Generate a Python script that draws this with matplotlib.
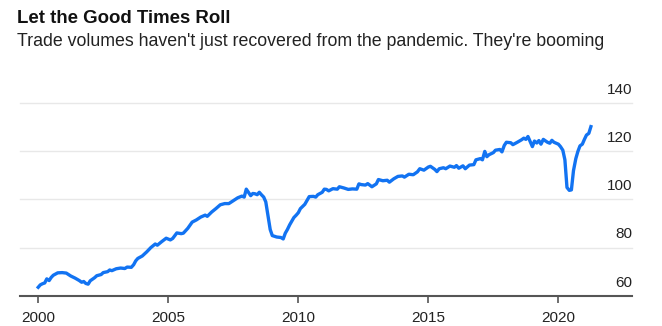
import matplotlib
matplotlib.use("Agg")
import matplotlib.pyplot as plt

plt.rcParams['font.family'] = ['Liberation Sans', 'DejaVu Sans']

# valores (indice de volumen de comercio)
years = [2000.00, 2000.08, 2000.17, 2000.25, 2000.33, 2000.42, 2000.50, 2000.58, 2000.75, 2000.92,
         2001.08, 2001.25, 2001.42, 2001.58, 2001.67, 2001.75, 2001.83, 2001.92,
         2002.00, 2002.17, 2002.25, 2002.42, 2002.50, 2002.67, 2002.75, 2002.83,
         2003.00, 2003.17, 2003.33, 2003.42, 2003.58, 2003.67, 2003.75, 2003.83,
         2004.00, 2004.17, 2004.33, 2004.50, 2004.58, 2004.75, 2004.92,
         2005.08, 2005.17, 2005.33, 2005.50, 2005.58, 2005.75, 2005.92,
         2006.08, 2006.25, 2006.42, 2006.50, 2006.67, 2006.83,
         2007.00, 2007.17, 2007.33, 2007.50, 2007.67, 2007.83, 2007.92,
         2008.00, 2008.08, 2008.17, 2008.25, 2008.33, 2008.42, 2008.50, 2008.58, 2008.67, 2008.75, 2008.83, 2008.92,
         2009.00, 2009.17, 2009.33, 2009.42, 2009.50, 2009.58, 2009.67, 2009.83, 2009.92,
         2010.00, 2010.08, 2010.25, 2010.33, 2010.42, 2010.58, 2010.67, 2010.75, 2010.92,
         2011.00, 2011.08, 2011.17, 2011.33, 2011.50, 2011.58, 2011.75, 2011.92,
         2012.08, 2012.25, 2012.33, 2012.42, 2012.58, 2012.67, 2012.83,
         2013.00, 2013.08, 2013.25, 2013.42, 2013.50, 2013.67, 2013.83,
         2014.00, 2014.08, 2014.25, 2014.42, 2014.58, 2014.67, 2014.83,
         2015.00, 2015.08, 2015.25, 2015.33, 2015.42, 2015.58, 2015.67, 2015.83,
         2016.00, 2016.08, 2016.17, 2016.33, 2016.42, 2016.58, 2016.75, 2016.83,
         2017.00, 2017.08, 2017.17, 2017.25, 2017.33, 2017.50, 2017.58, 2017.75, 2017.83, 2017.92,
         2018.00, 2018.17, 2018.25, 2018.42, 2018.58, 2018.67, 2018.75, 2018.83, 2018.92,
         2019.00, 2019.08, 2019.17, 2019.25, 2019.33, 2019.42, 2019.58, 2019.67, 2019.75, 2019.83,
         2020.00, 2020.08, 2020.17, 2020.25, 2020.33, 2020.42, 2020.50, 2020.58, 2020.67, 2020.75, 2020.83, 2020.92,
         2021.00, 2021.08, 2021.17, 2021.25]
volume = [63.5, 64.5, 65.0, 65.3, 67.0, 66.3, 67.6, 68.5, 69.5, 69.6,
          69.4, 68.2, 67.3, 66.3, 65.6, 65.9, 65.1, 64.8,
          66.2, 67.5, 68.3, 68.8, 69.6, 70.0, 70.7, 70.4,
          71.2, 71.5, 71.3, 71.9, 71.8, 72.9, 74.5, 75.5,
          76.5, 78.2, 80.0, 81.5, 81.0, 82.5, 83.9,
          83.2, 83.8, 86.1, 85.8, 86.0, 88.0, 90.6,
          91.5, 92.7, 93.5, 93.0, 94.8, 96.2,
          97.8, 98.3, 98.3, 99.5, 100.7, 101.4, 101.0,
          104.3, 103.0, 101.6, 102.5, 102.4, 102.0, 103.0, 102.0, 101.0, 99.0, 93.5, 87.5,
          85.0, 84.4, 84.2, 83.6, 86.0, 87.5, 89.5, 92.5, 93.5,
          94.5, 96.2, 98.0, 99.5, 101.2, 101.3, 101.0, 102.0, 103.0,
          104.3, 104.2, 103.6, 104.5, 104.3, 105.3, 104.8, 104.2,
          104.4, 104.3, 106.5, 106.2, 106.0, 106.6, 105.3,
          106.5, 108.3, 107.8, 108.0, 107.2, 108.6, 109.6,
          109.8, 109.3, 110.5, 110.3, 111.5, 112.8, 112.2,
          113.5, 113.8, 112.5, 111.6, 112.8, 113.2, 112.8, 113.9,
          113.4, 114.1, 113.0, 114.0, 112.8, 114.3, 114.5, 116.5,
          117.0, 116.5, 120.0, 117.8, 118.6, 119.5, 120.5, 120.8, 119.8, 122.5,
          123.8, 123.6, 122.8, 123.8, 124.8, 125.5, 125.0, 126.2, 124.0,
          122.0, 124.3, 123.5, 124.5, 123.0, 125.0, 123.8, 123.4, 124.6, 123.8,
          123.0, 122.0, 120.5, 116.5, 105.0, 103.8, 104.0, 112.0, 117.0, 120.0, 122.3, 123.0,
          125.0, 126.8, 127.5, 130.3]

x_ticks = [2000, 2005, 2010, 2015, 2020]
y_ticks = [60, 80, 100, 120, 140]

title = "Let the Good Times Roll"
subtitle = "Trade volumes haven't just recovered from the pandemic. They're booming"

fig = plt.figure(figsize=(6.62, 3.26), dpi=100)
ax = fig.add_axes([20/662, 1 - 295.7/326, 612/662, 192.4/326])

ax.plot(years, volume, color="#1273f2", lw=2.4, solid_joinstyle="round", zorder=3)

ax.set_xlim(1999.3, 2022.83)
ax.set_ylim(60, 140)

for v in y_ticks[1:]:
    ax.axhline(v, color="#e8e8e8", lw=1, zorder=1, clip_on=False)

# etiquetas eje y encima de las lineas
for v in y_ticks:
    ax.annotate(str(v), xy=(1.0, v), xycoords=ax.get_yaxis_transform(),
                xytext=(0, 9.5), textcoords="offset points",
                ha="right", va="center", fontsize=11, color="#222222")

ax.set_yticks([])
ax.set_xticks(x_ticks)
ax.set_xticklabels([str(t) for t in x_ticks])
ax.tick_params(axis="x", length=5, width=1.2, color="#555555", labelsize=11,
               labelcolor="#222222", pad=6)

for s in ["top", "right", "left"]:
    ax.spines[s].set_visible(False)
ax.spines["bottom"].set_color("#555555")
ax.spines["bottom"].set_linewidth(1.5)

fig.text(17/662, 1 - 23/326, title, fontsize=13.4, fontweight="bold", color="#111111", va="baseline")
fig.text(17/662, 1 - 46/326, subtitle, fontsize=12.8, color="#222222", va="baseline")

fig.savefig("out.png", dpi=100)
